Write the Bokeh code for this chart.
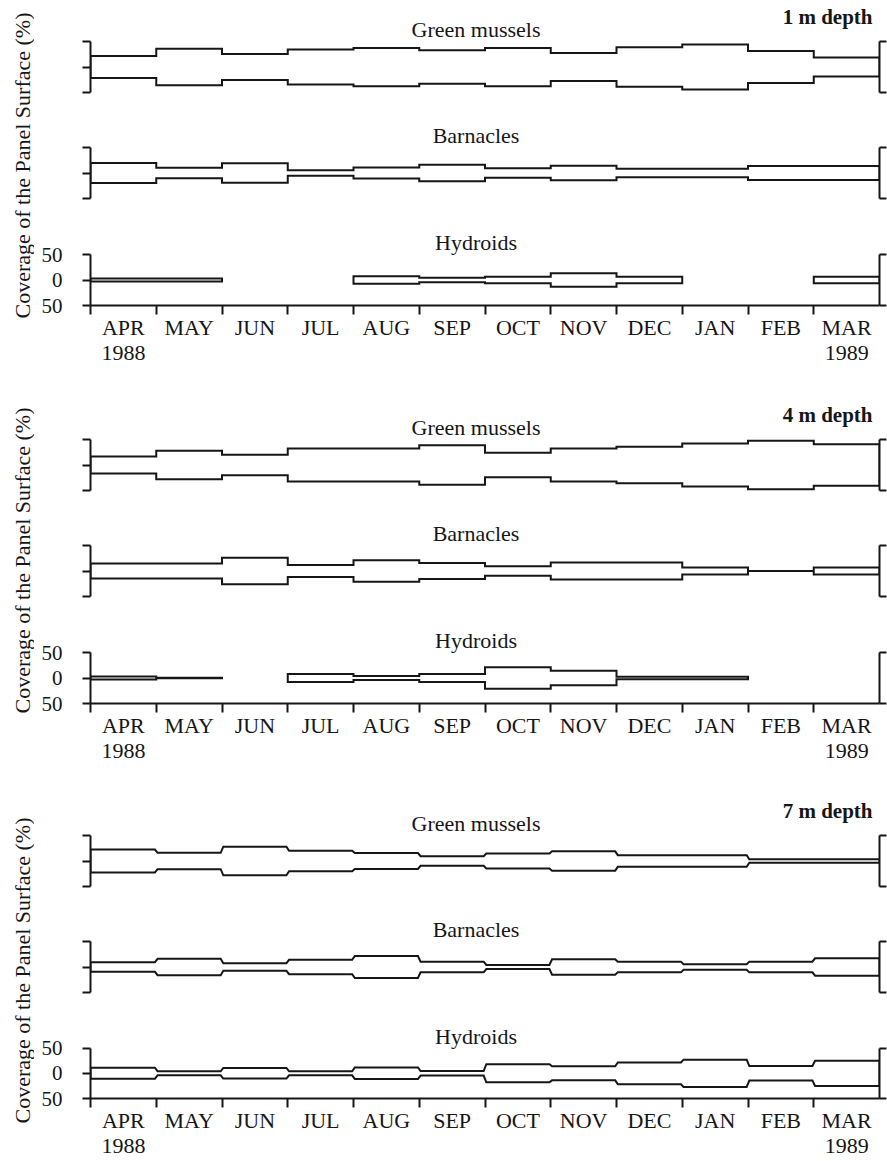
import numpy as np
from bokeh.plotting import figure
from bokeh.models import Range1d, LinearAxis, FixedTicker, Label
from bokeh.layouts import column, row
from bokeh.embed import file_html
from bokeh.resources import INLINE

# ---------------- data ----------------
months = ["APR", "MAY", "JUN", "JUL", "AUG", "SEP", "OCT", "NOV", "DEC", "JAN", "FEB", "MAR"]
first_year = "1988"
last_year = "1989"
depth_labels = ["1 m depth", "4 m depth", "7 m depth"]
taxa = ["Green mussels", "Barnacles", "Hydroids"]
y_title = "Coverage of the Panel Surface (%)"

# coverage of the panel surface (%), one value per month (None = absent)
mussels_1m = [43, 72, 51, 69, 75, 66, 75, 55, 77, 88, 63, 37]
barnacles_1m = [39, 21, 38, 11, 22, 32, 19, 28, 17, 17, 27, 27]
hydroids_1m = [6, 6, None, None, 15, 9, 13, 26, 13, None, None, 13]

mussels_4m = [33, 56, 40, 65, 65, 77, 48, 65, 72, 84, 95, 81]
barnacles_4m = [29, 29, 52, 24, 42, 31, 19, 33, 33, 14, 0, 14]
hydroids_4m = [6, 1, None, 16, 8, 16, 42, 28, 5, 5, None, None]

mussels_7m = [45, 32, 56, 40, 31, 19, 29, 38, 23, 23, 7, 7]
barnacles_7m = [19, 32, 15, 28, 43, 21, 8, 30, 21, 11, 21, 34]
hydroids_7m = [22, 8, 21, 8, 23, 9, 36, 28, 43, 54, 29, 50]

series = [
    [mussels_1m, barnacles_1m, hydroids_1m],
    [mussels_4m, barnacles_4m, hydroids_4m],
    [mussels_7m, barnacles_7m, hydroids_7m],
]

# ---------------- style / geometry ----------------
FONT = "Liberation Serif"
INK = "#161616"
SCALE = 0.51          # px per % unit
LABEL_W = 34
FIG_W = 853
BORDER_L = 56
BORDER_R = 8
TOP_PAD = [41, 37, 37]      # px above the +50 bracket end
BOT_PAD = [18, 19, 0]       # px below the -50 bracket end
BOTTOM_BORDER = [93, 91, 61]
BEVEL = [0.0, 0.0, 0.02]    # slanted transitions at 7 m
YLAB_CENTER = [165, 162, 176]
YLAB_X = 22
TITLE_RISE = 12
DEPTH_RISE = 25


def band(values, bevel):
    xs, ys = [], []
    runs, cur = [], []
    for i, v in enumerate(list(values) + [None]):
        if v is None:
            if cur:
                runs.append(cur)
            cur = []
        else:
            cur.append((i, v))
    for run in runs:
        top = []
        n = len(run)
        for k, (i, v) in enumerate(run):
            x0 = i + (bevel if k > 0 else 0.0)
            x1 = i + 1 - (bevel if k < n - 1 else 0.0)
            top.append((x0, v / 2.0))
            top.append((x1, v / 2.0))
        bottom = [(x, -y) for (x, y) in reversed(top)]
        pts = top + bottom
        xs.append([p[0] for p in pts])
        ys.append([p[1] for p in pts])
    return xs, ys


def row_figure(b, r):
    top_pad = TOP_PAD[r]
    bot_pad = BOT_PAD[r]
    frame_h = top_pad + 100 * SCALE + bot_pad
    is_bottom = (r == 2)
    bb = BOTTOM_BORDER[b] if is_bottom else 0
    h = int(round(frame_h + bb))
    p = figure(width=FIG_W, height=h,
               x_range=Range1d(0, len(months)),
               y_range=Range1d(-50 - bot_pad / SCALE, 50 + top_pad / SCALE),
               output_backend="svg", toolbar_location=None,
               x_axis_location=None, y_axis_location=None,
               min_border_left=BORDER_L, min_border_right=BORDER_R,
               min_border_top=0, min_border_bottom=bb)
    p.outline_line_color = None
    p.grid.visible = False
    p.background_fill_color = "white"
    p.border_fill_color = "white"

    xs, ys = band(series[b][r], BEVEL[b])
    p.patches(xs, ys, fill_color=None, line_color=INK, line_width=2,
              line_join="miter")

    lab_over = {-50: "50", 0: "0", 50: "50"} if is_bottom else {-50: "", 0: "", 50: ""}
    yl = LinearAxis(bounds=(-50, 50), ticker=FixedTicker(ticks=[-50, 0, 50]),
                    major_tick_out=8, major_tick_in=0,
                    minor_tick_out=0, minor_tick_in=0,
                    axis_line_width=2, axis_line_color=INK,
                    major_tick_line_width=2, major_tick_line_color=INK,
                    major_label_standoff=20,
                    major_label_overrides=lab_over,
                    major_label_text_font=FONT,
                    major_label_text_font_size="21px",
                    major_label_text_color=INK)
    p.add_layout(yl, "left")

    yr = LinearAxis(bounds=(-50, 50), ticker=FixedTicker(ticks=[-50, 50]),
                    major_tick_out=7, major_tick_in=0,
                    minor_tick_out=0, minor_tick_in=0,
                    axis_line_width=2, axis_line_color=INK,
                    major_tick_line_width=2, major_tick_line_color=INK,
                    major_label_standoff=0,
                    major_label_overrides={-50: "", 50: ""},
                    major_label_text_font_size="1px")
    p.add_layout(yr, "right")

    if is_bottom:
        centers = [i + 0.5 for i in range(len(months))]
        over = {}
        for i, m in enumerate(months):
            over[centers[i]] = m
        over[centers[0]] = months[0] + "\n" + first_year
        over[centers[-1]] = months[-1] + "\n" + last_year
        xa = LinearAxis(ticker=FixedTicker(ticks=centers,
                                           minor_ticks=list(range(len(months)))),
                        major_tick_out=0, major_tick_in=0,
                        minor_tick_out=9, minor_tick_in=0,
                        axis_line_width=2, axis_line_color=INK,
                        minor_tick_line_width=2, minor_tick_line_color=INK,
                        major_label_standoff=0,
                        major_label_overrides=over,
                        major_label_text_font=FONT,
                        major_label_text_font_size="22px",
                        major_label_text_line_height=1.0,
                        major_label_text_color=INK)
        p.add_layout(xa, "below")

    p.add_layout(Label(x=6, y=50 + TITLE_RISE / SCALE, x_offset=-9, text=taxa[r],
                       text_align="center", text_baseline="alphabetic",
                       text_font=FONT, text_font_size="22px", text_color=INK))
    if r == 0:
        p.add_layout(Label(x=len(months), y=50 + DEPTH_RISE / SCALE, x_offset=-7,
                           text=depth_labels[b], text_align="right",
                           text_baseline="alphabetic", text_font=FONT,
                           text_font_size="21px", text_font_style="bold",
                           text_color=INK))
    return p, h


blocks = []
for b in range(3):
    figs = []
    total_h = 0
    for r in range(3):
        f, h = row_figure(b, r)
        figs.append(f)
        total_h += h
    lf = figure(width=LABEL_W, height=total_h,
                x_range=Range1d(0, LABEL_W), y_range=Range1d(0, total_h),
                output_backend="svg", toolbar_location=None,
                x_axis_location=None, y_axis_location=None, min_border=0)
    lf.outline_line_color = None
    lf.grid.visible = False
    lf.add_layout(Label(x=YLAB_X, y=total_h - YLAB_CENTER[b], text=y_title, angle=np.pi / 2,
                        text_align="center", text_baseline="middle",
                        text_font=FONT, text_font_size="22px", text_color=INK))
    blocks.append(row(lf, column(*figs)))

layout = column(*blocks)
open("out.html", "w").write(file_html(layout, INLINE))
